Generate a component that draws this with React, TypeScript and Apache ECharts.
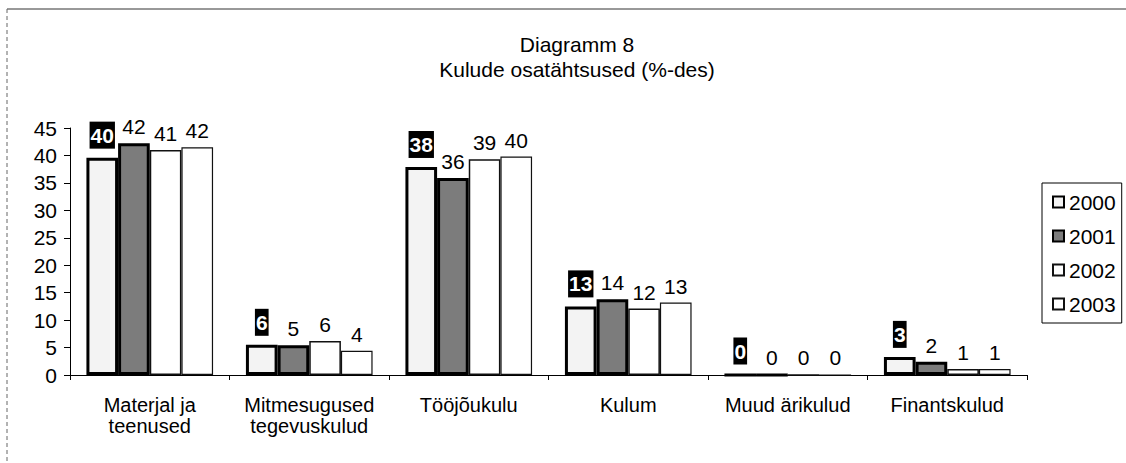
import React, { useEffect, useRef } from "react";
import * as echarts from "echarts";

const categories = [
  "Materjal ja\nteenused",
  "Mitmesugused\ntegevuskulud",
  "Tööjõukulu",
  "Kulum",
  "Muud ärikulud",
  "Finantskulud",
];
const years = ["2000", "2001", "2002", "2003"];
const s2000 = [39.6, 5.5, 37.9, 12.5, 0, 3.3];
const s2001 = [42.2, 5.4, 35.9, 13.8, 0, 2.4];
const s2002 = [41.0, 6.2, 39.3, 12.1, 0, 1.1];
const s2003 = [41.5, 4.4, 39.8, 13.2, 0, 1.1];
const yTicks = { min: 0, max: 45, interval: 5 };
const titleText = "Diagramm 8\nKulude osatähtsused (%-des)";

const FONT = "'Liberation Sans', Arial, sans-serif";

export default function App() {
  const ref = useRef<HTMLDivElement>(null);
  useEffect(() => {
    if (!ref.current) return;
    const chart = echarts.init(ref.current, undefined, { renderer: "svg" });
    const round = (p: any) => String(Math.round(p.value));
    const plainLabel = {
      show: true,
      position: "top",
      distance: 6,
      formatter: round,
      color: "#000",
      fontSize: 21,
      lineHeight: 21,
      fontFamily: FONT,
    };
    const styles = [
      { color: "#f3f3f3", borderColor: "#000", borderWidth: 3 },
      { color: "#7c7c7c", borderColor: "#000", borderWidth: 3 },
      { color: "#ffffff", borderColor: "#111", borderWidth: 1.5 },
      { color: "#ffffff", borderColor: "#111", borderWidth: 1.2 },
    ];
    const data = [s2000, s2001, s2002, s2003];
    const series = years.map((y, i) => ({
      name: y,
      type: "bar",
      data: data[i],
      barGap: "0%",
      barCategoryGap: "20.6%",
      itemStyle: styles[i],
      label:
        i === 0
          ? {
              ...plainLabel,
              distance: 9,
              color: "#fff",
              fontWeight: "bold",
              backgroundColor: "#000",
              padding: [3, 1, 3, 1],
            }
          : plainLabel,
    }));
    chart.setOption({
      animation: false,
      backgroundColor: "#fff",
      textStyle: { fontFamily: FONT },
      title: {
        text: titleText,
        left: 572,
        textAlign: "center",
        top: 27,
        textStyle: {
          fontSize: 21,
          lineHeight: 25,
          fontWeight: "normal",
          color: "#000",
          fontFamily: FONT,
        },
      },
      legend: {
        orient: "vertical",
        left: 1042,
        top: 183,
        padding: [8, 6, 8, 10],
        itemGap: 12,
        itemWidth: 11,
        itemHeight: 11,
        icon: "rect",
        borderColor: "#000",
        borderWidth: 1,
        textStyle: { fontSize: 21, lineHeight: 22, color: "#000", fontFamily: FONT },
        data: years,
      },
      grid: { left: 70, right: 99, top: 128, bottom: 88 },
      xAxis: {
        type: "category",
        data: categories,
        axisLine: { lineStyle: { color: "#000", width: 1 } },
        axisTick: { show: true, length: 5, lineStyle: { color: "#000" } },
        axisLabel: {
          interval: 0,
          margin: 19,
          fontSize: 20,
          lineHeight: 21,
          color: "#000",
          fontFamily: FONT,
        },
      },
      yAxis: {
        type: "value",
        min: yTicks.min,
        max: yTicks.max,
        interval: yTicks.interval,
        splitLine: { show: false },
        axisLine: { show: true, lineStyle: { color: "#000", width: 1 } },
        axisTick: { show: true, length: 6, lineStyle: { color: "#000" } },
        axisLabel: { margin: 13, fontSize: 21, color: "#000", fontFamily: FONT },
      },
      graphic: [
        { type: "line", shape: { x1: 7, y1: 9, x2: 1126, y2: 9 }, style: { stroke: "#333", lineWidth: 1 } },
        { type: "line", shape: { x1: 7, y1: 9, x2: 7, y2: 463 }, style: { stroke: "#666", lineWidth: 1, lineDash: [4, 3] } },
      ],
      series,
    });
    return () => chart.dispose();
  }, []);
  return (
    <div
      ref={ref}
      style={{ position: "absolute", left: 0, top: 0, width: 1126, height: 463 }}
    />
  );
}
